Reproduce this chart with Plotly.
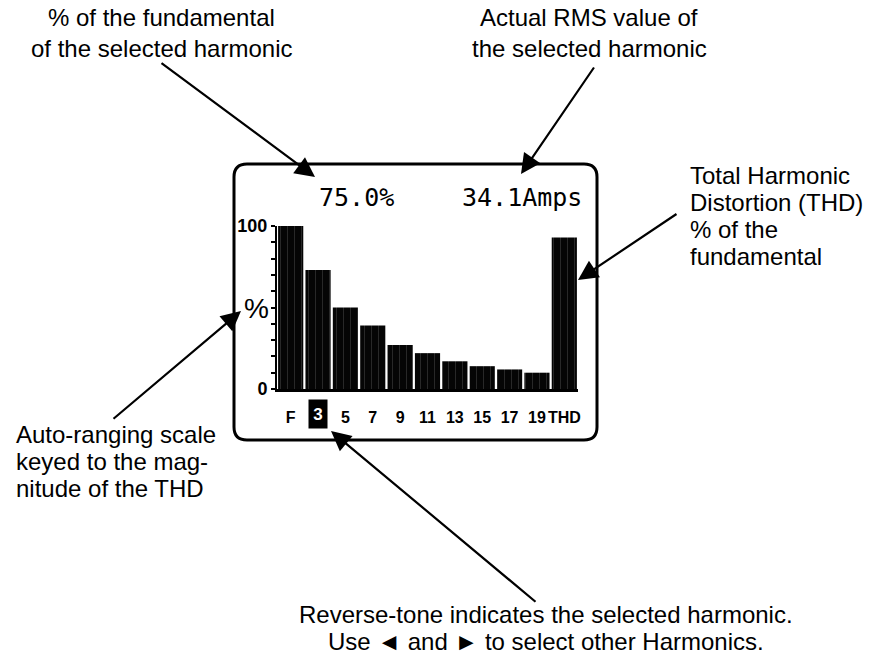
import plotly.graph_objects as go

# ---------------- data ----------------
harmonics = ["F", "3", "5", "7", "9", "11", "13", "15", "17", "19", "THD"]
percent_of_fundamental = [100, 73, 50, 39, 27, 22, 17, 14, 12, 10, 93]
selected_harmonic = "3"
selected_percent_text = "75.0%"
selected_rms_text = "34.1Amps"
y_tick_values = [0, 10, 20, 30, 40, 50, 60, 70, 80, 90, 100]
y_tick_labels = ["0", "", "", "", "", "", "", "", "", "", "100"]
y_unit_label = "%"

callout_pct = ["% of the fundamental", "of the selected harmonic"]
callout_rms = ["Actual RMS value of", "the selected harmonic"]
callout_thd = ["Total Harmonic", "Distortion (THD)", "% of the", "fundamental"]
callout_scale = ["Auto-ranging scale", "keyed to the mag-", "nitude of the THD"]
callout_select = ["Reverse-tone indicates the selected harmonic.",
                  "Use \u25c4 and \u25ba to select other Harmonics."]

# ---------------- layout geometry (screen pixels) ----------------
W, H = 881, 660
PL, PR, PT, PB = 277, 578, 226, 389   # plot area on screen


def px(x):
    return (x - PL) / (PR - PL)


def py(y):
    return (PB - y) / (PB - PT)


SANS = "Liberation Sans, Arial, Helvetica, sans-serif"
MONO = "DejaVu Sans Mono, Liberation Mono, monospace"

fig = go.Figure()
fig.add_trace(go.Bar(
    x=harmonics,
    y=percent_of_fundamental,
    marker=dict(
        color="#050505",
        line=dict(width=0),
        pattern=dict(shape="|", fillmode="replace", bgcolor="#050505",
                     fgcolor="#454545", size=7, solidity=0.08),
    ),
    hoverinfo="x+y",
))

annotations = []


def text_lines(lines, x, y0, step, anchor="center", size=24):
    for i, t in enumerate(lines):
        annotations.append(dict(
            text=t, xref="paper", yref="paper", x=px(x), y=py(y0 + i * step),
            xanchor=anchor, yanchor="middle", showarrow=False,
            font=dict(family=SANS, size=size, color="black")))


text_lines(callout_pct, 161, 18, 30)
text_lines(callout_rms, 589, 18, 30)
text_lines(callout_thd, 688, 175, 27, anchor="left")
text_lines(callout_scale, 14, 434, 27, anchor="left")
text_lines(callout_select, 546, 614, 27)


def arrow(tail, tip):
    annotations.append(dict(
        text="", xref="paper", yref="paper", x=px(tip[0]), y=py(tip[1]),
        ax=tail[0] - tip[0], ay=tail[1] - tip[1], axref="pixel", ayref="pixel",
        showarrow=True, arrowhead=2, arrowsize=1.8, arrowwidth=2.2,
        arrowcolor="black", standoff=0, startstandoff=0))


arrow((160, 62), (315, 177))
arrow((595, 66), (521, 174))
arrow((678, 213), (578, 280))
arrow((112, 420), (241, 311))
arrow((537, 603), (331, 431))

# screen readouts
annotations.append(dict(text=selected_percent_text, xref="paper", yref="paper",
                        x=px(356), y=py(197), xanchor="center", yanchor="middle",
                        showarrow=False,
                        font=dict(family=MONO, size=25, color="black")))
annotations.append(dict(text=selected_rms_text, xref="paper", yref="paper",
                        x=px(522), y=py(197), xanchor="center", yanchor="middle",
                        showarrow=False,
                        font=dict(family=MONO, size=25, color="black")))
# y unit label
annotations.append(dict(text=y_unit_label, xref="paper", yref="paper",
                        x=px(256), y=py(308), xanchor="center", yanchor="middle",
                        showarrow=False,
                        font=dict(family=SANS, size=28, color="black")))
# reverse-tone selected harmonic label (category index on the x axis)
annotations.append(dict(text=selected_harmonic, xref="x", yref="paper",
                        x=harmonics.index(selected_harmonic), y=py(414),
                        xanchor="center", yanchor="middle", showarrow=False,
                        bgcolor="black", width=18, height=28, borderpad=0,
                        font=dict(family=SANS, size=17, color="white", weight="bold")))

x_tick_labels = [h if h != selected_harmonic else "" for h in harmonics]

# rounded screen frame
x0, x1, y0, y1, r = 234, 597, 164, 440, 13
path = (
    f"M {px(x0 + r)},{py(y0)} L {px(x1 - r)},{py(y0)} "
    f"Q {px(x1)},{py(y0)} {px(x1)},{py(y0 + r)} "
    f"L {px(x1)},{py(y1 - r)} Q {px(x1)},{py(y1)} {px(x1 - r)},{py(y1)} "
    f"L {px(x0 + r)},{py(y1)} Q {px(x0)},{py(y1)} {px(x0)},{py(y1 - r)} "
    f"L {px(x0)},{py(y0 + r)} Q {px(x0)},{py(y0)} {px(x0 + r)},{py(y0)} Z"
)

fig.update_layout(
    width=W, height=H, autosize=False,
    margin=dict(l=PL, r=W - PR, t=PT, b=H - PB, pad=0),
    paper_bgcolor="white", plot_bgcolor="white",
    showlegend=False, bargap=0.08,
    annotations=annotations,
    shapes=[dict(type="path", path=path, xref="paper", yref="paper",
                 line=dict(color="black", width=3), layer="below")],
    xaxis=dict(range=[-0.5, 10.5], showline=True, linecolor="black", linewidth=2.5,
               ticks="", showgrid=False, zeroline=False, fixedrange=True,
               tickmode="array", tickvals=harmonics, ticktext=x_tick_labels,
               tickangle=0, ticklabelstandoff=12,
               tickfont=dict(family=SANS, size=16, color="black", weight="bold")),
    yaxis=dict(range=[0, 100], showline=True, linecolor="black", linewidth=2,
               ticks="outside", ticklen=4, tickwidth=1.5, tickcolor="black",
               tickvals=y_tick_values, ticktext=y_tick_labels,
               showgrid=False, zeroline=False, fixedrange=True,
               tickfont=dict(family=SANS, size=18, color="black", weight="bold")),
)

fig.write_html(
    "out.html",
    config={"displayModeBar": False},
    post_script="document.body.style.margin='0px';document.body.style.overflow='hidden';",
)
